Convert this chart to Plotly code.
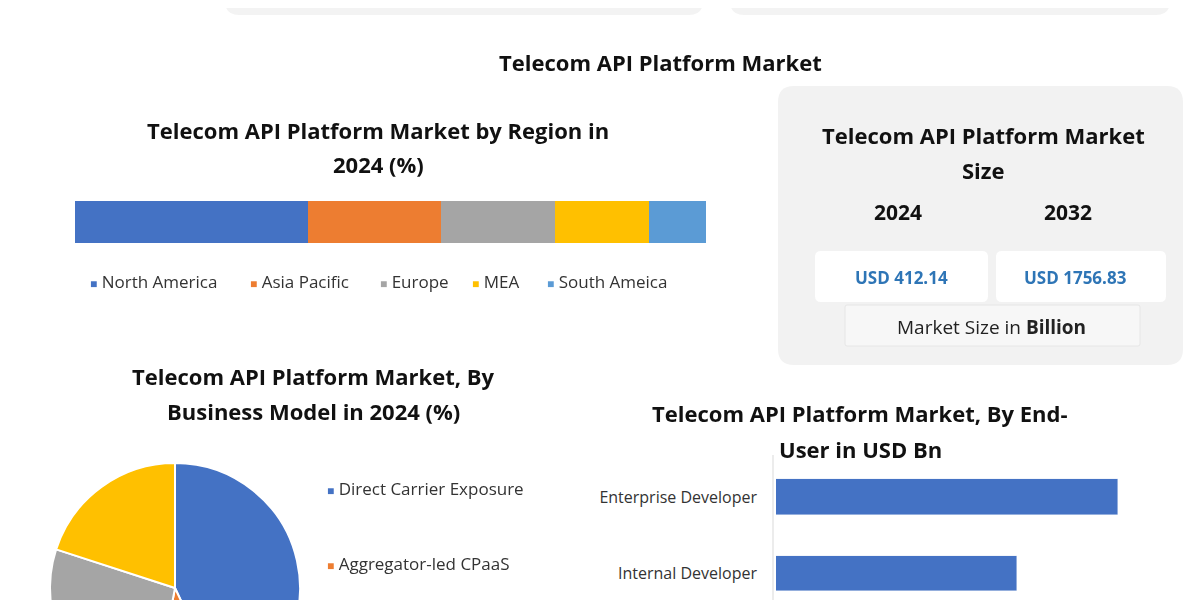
import plotly.graph_objects as go

W, H = 1200, 720
OFF = 8  # page body margin

regions = ['North America', 'Asia Pacific', 'Europe', 'MEA', 'South Ameica']
region_share = [37, 21, 18, 15, 9]
region_colors = ['#4472c4', '#ed7d31', '#a5a5a5', '#ffc000', '#5b9bd5']

models = ['Direct Carrier Exposure', 'Aggregator-led CPaaS', 'Other A', 'Other B']
model_share = [43, 10, 27, 20]
model_colors = ['#4472c4', '#ed7d31', '#a5a5a5', '#ffc000']

end_users = ['Enterprise Developer', 'Internal Developer']
end_user_values = [3.4, 2.4]

size_years = ['2024', '2032']
size_values = ['USD 412.14', 'USD 1756.83']

FONT = 'Open Sans'


def fx(x):
    return (x - OFF) / W


def fy(y):
    return 1 - (y - OFF) / H


def rrect(x0, y0, x1, y1, r, fill, line='rgba(0,0,0,0)'):
    path = (f'M {x0+r},{y0} L {x1-r},{y0} Q {x1},{y0} {x1},{y0+r} L {x1},{y1-r} '
            f'Q {x1},{y1} {x1-r},{y1} L {x0+r},{y1} Q {x0},{y1} {x0},{y1-r} '
            f'L {x0},{y0+r} Q {x0},{y0} {x0+r},{y0} Z')
    return dict(type='path', path=path, xref='x9', yref='y9', fillcolor=fill,
                line=dict(color=line, width=1), layer='below')


fig = go.Figure()

# stacked region bar
for name, val, col in zip(regions, region_share, region_colors):
    fig.add_trace(go.Bar(x=[val], y=[0], orientation='h', name=name, marker_color=col,
                         marker_line_width=0, width=1, xaxis='x2', yaxis='y2',
                         showlegend=False, hoverinfo='name+x'))

# business model pie
fig.add_trace(go.Pie(labels=models, values=model_share, marker=dict(colors=model_colors,
                     line=dict(color='white', width=2)), sort=False, direction='clockwise',
                     rotation=0, textinfo='none', showlegend=False,
                     domain=dict(x=[fx(50), fx(300)], y=[fy(713), fy(463)])))

# end-user bars
fig.add_trace(go.Bar(x=end_user_values, y=end_users, orientation='h', marker_color='#4472c4',
                     width=0.46, xaxis='x3', yaxis='y3', showlegend=False))

# dummy axis for pixel-space shapes
fig.add_trace(go.Scatter(x=[OFF, W + OFF], y=[OFF, H + OFF], mode='markers', opacity=0,
                         xaxis='x9', yaxis='y9', showlegend=False, hoverinfo='skip'))

shapes = [
    rrect(225, -20, 703, 15, 14, '#f3f3f3'),
    rrect(730, -20, 1170, 15, 14, '#f3f3f3'),
    rrect(778, 86, 1183, 365, 16, '#f2f2f2'),
    rrect(815, 251, 988, 302, 6, 'white'),
    rrect(996, 251, 1166, 302, 6, 'white'),
    rrect(845, 305, 1140, 346, 2, '#f7f7f7', '#e6e6e6'),
    dict(type='line', xref='x9', yref='y9', x0=3, x1=3, y0=0, y1=H + OFF, line=dict(color='#7f8c95', width=2)),
    dict(type='line', xref='x9', yref='y9', x0=1193, x1=1193, y0=0, y1=H + OFF, line=dict(color='#7f8c95', width=2)),
    dict(type='line', xref='x9', yref='y9', x0=773, x1=773, y0=455, y1=H + OFF, line=dict(color='#d9d9d9', width=1)),
]

ann = []


def text(x, y, t, size, color='#111', bold=False, xanchor='center'):
    if bold:
        t = f'<b>{t}</b>'
    ann.append(dict(x=fx(x), y=fy(y), xref='paper', yref='paper', text=t, showarrow=False,
                    xanchor=xanchor, yanchor='middle', font=dict(family=FONT, size=size, color=color)))


text(660, 62, 'Telecom API Platform Market', 22, bold=True)
text(378, 130, 'Telecom API Platform Market by Region in', 22, bold=True)
text(378, 164, '2024 (%)', 22, bold=True)
text(983, 135, 'Telecom API Platform Market', 22, bold=True)
text(983, 170, 'Size', 22, bold=True)
text(898, 212, size_years[0], 21, bold=True)
text(1068, 212, size_years[1], 21, bold=True)
text(901, 277, size_values[0], 17, '#2e75b6', bold=True)
text(1075, 277, size_values[1], 17, '#2e75b6', bold=True)
text(992, 327, 'Market Size in <b>Billion</b>', 19, '#222')
text(313, 376, 'Telecom API Platform Market, By', 22, bold=True)
text(313, 411, 'Business Model in 2024 (%)', 22, bold=True)
text(860, 413, 'Telecom API Platform Market, By End-', 22, bold=True)
text(860, 449, 'User in USD Bn', 22, bold=True)

leg_x = [88, 248, 378, 470, 545]
for x, name, col in zip(leg_x, regions, region_colors):
    text(x, 281, f'<span style="color:{col};font-size:12px">■</span> {name}', 17, '#333', xanchor='left')
for y, name, col in zip([489, 563], models[:2], model_colors[:2]):
    text(325, y, f'<span style="color:{col};font-size:12px">■</span> {name}', 17, '#333', xanchor='left')

fig.update_layout(
    width=W, height=H, margin=dict(l=0, r=0, t=0, b=0),
    paper_bgcolor='white', plot_bgcolor='rgba(0,0,0,0)',
    barmode='stack', bargap=0,
    shapes=shapes, annotations=ann,
    xaxis9=dict(domain=[0, 1], range=[OFF, W + OFF], visible=False, fixedrange=True),
    yaxis9=dict(domain=[0, 1], range=[H + OFF, OFF], visible=False, anchor='x9'),
    xaxis2=dict(domain=[fx(75), fx(706)], range=[0, sum(region_share)], visible=False, anchor='y2'),
    yaxis2=dict(domain=[fy(243), fy(201)], range=[-0.5, 0.5], visible=False, anchor='x2'),
    xaxis3=dict(domain=[fx(776), fx(1180)], range=[0, 4.02], visible=False, anchor='y3'),
    yaxis3=dict(domain=[fy(650), fy(455)], range=[2.0, -0.55], anchor='x3', showgrid=False,
                ticks='', tickfont=dict(family=FONT, size=16, color='#333'), ticklabelstandoff=18),
)
fig.update_layout(xaxis=dict(visible=False), yaxis=dict(visible=False))

fig.write_html('out.html')
